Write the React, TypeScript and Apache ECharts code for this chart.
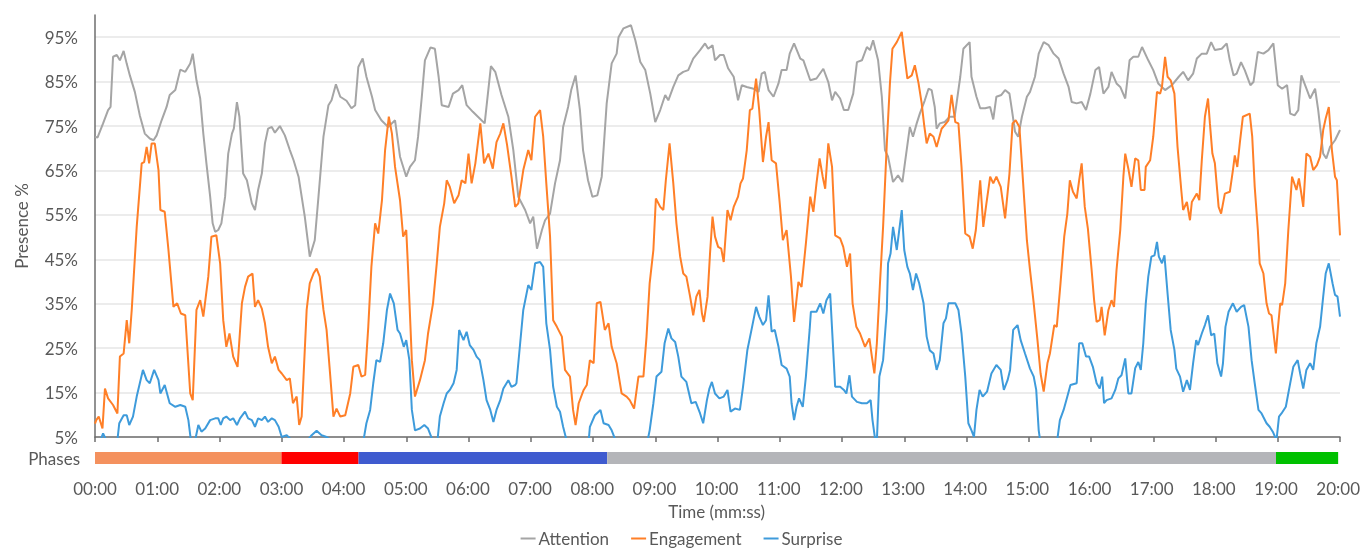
import React, { useEffect, useRef } from 'react';
import * as echarts from 'echarts';

const FONT = 'Lato, "Noto Sans", sans-serif';
const TEXT = '#595959';

const seriesNames = ['Attention', 'Engagement', 'Surprise'];
const seriesColors = ['#A5A5A5', '#FF7F27', '#3E9BDB'];

const phaseBounds = [0, 3, 4.24, 8.24, 19, 20];
const phaseColors = ['#F4915E', '#FF0000', '#3F5BCF', '#B4B5B9', '#00C000'];

const attention: [number, number][] = [
[0,72.6],[0.04,72.4],[0.13,75.6],[0.21,78.6],[0.25,79.3],[0.29,90.6],[0.35,91],[0.40,89.8],[0.46,91.9],[0.51,89],[0.56,86.4],[0.64,82.7],[0.72,77.4],[0.80,73.3],[0.88,72.2],[0.94,71.8],[0.99,72.9],[1.07,76.3],[1.15,79.3],[1.20,82],[1.29,83.1],[1.37,87.7],[1.45,87.2],[1.53,89.1],[1.57,91.3],[1.63,85.3],[1.69,81.2],[1.74,73.3],[1.79,66.6],[1.85,59.1],[1.89,53.1],[1.93,51.2],[1.98,51.6],[2.03,53.1],[2.09,59.1],[2.14,68.8],[2.20,73.3],[2.23,74.4],[2.28,80.4],[2.32,77.1],[2.38,64.3],[2.44,62.8],[2.52,57.6],[2.57,56.1],[2.62,60.6],[2.68,64.3],[2.73,71.1],[2.78,74.4],[2.84,74.8],[2.89,73.5],[2.97,75],[3.05,72.9],[3.13,69.6],[3.19,67.3],[3.27,63.6],[3.37,54.6],[3.45,45.6],[3.53,49.3],[3.59,59.1],[3.67,72.6],[3.75,79.7],[3.80,80.8],[3.87,84.4],[3.94,81.6],[4.04,80.7],[4.12,79],[4.18,79.7],[4.23,88.3],[4.30,90.2],[4.36,86.1],[4.45,81.6],[4.50,78.6],[4.60,76.3],[4.71,74.8],[4.82,76.3],[4.90,68.1],[5.00,63.6],[5.06,65.8],[5.14,67.3],[5.19,72.6],[5.25,81.6],[5.30,89.8],[5.39,92.7],[5.46,92.4],[5.52,86.1],[5.57,79.7],[5.68,79.3],[5.75,82.3],[5.84,83.1],[5.90,84.2],[5.97,79.7],[6.07,78.2],[6.18,76.7],[6.26,75.6],[6.36,88.5],[6.43,87.2],[6.53,82],[6.64,77.1],[6.72,69.6],[6.80,59.1],[6.91,56.1],[6.99,53.1],[7.04,54.6],[7.10,47.4],[7.18,51.6],[7.23,53.8],[7.31,55.3],[7.39,62.1],[7.47,67.3],[7.52,74.8],[7.60,79.3],[7.65,83.1],[7.72,86.4],[7.79,78.6],[7.84,69.6],[7.92,62.8],[7.99,59.1],[8.07,59.4],[8.14,63.6],[8.22,80.1],[8.30,89.1],[8.38,91.3],[8.41,95],[8.49,97],[8.61,97.7],[8.68,94.3],[8.76,89.4],[8.84,87.6],[8.92,82.3],[9.00,75.9],[9.08,78.6],[9.16,82],[9.21,80.8],[9.29,83.8],[9.37,86.4],[9.45,87.2],[9.53,87.6],[9.61,90.2],[9.72,92.1],[9.80,93.6],[9.85,92.4],[9.92,93.2],[9.96,89.8],[10.04,91],[10.10,91],[10.17,88],[10.26,86.1],[10.33,80.8],[10.39,84.2],[10.47,83.8],[10.58,83.4],[10.66,82.7],[10.71,86.8],[10.76,87.2],[10.82,83.1],[10.90,81.6],[10.98,84.6],[11.03,87.6],[11.11,87.6],[11.16,91.3],[11.23,93.6],[11.33,90.2],[11.38,89.8],[11.49,85.3],[11.59,85.7],[11.70,87.9],[11.78,84.9],[11.84,80.8],[11.89,82.7],[11.97,81.2],[12.03,78.6],[12.10,78.6],[12.18,82.3],[12.24,89.4],[12.32,89.8],[12.40,92.8],[12.45,92.1],[12.50,94.3],[12.58,89.8],[12.64,81.6],[12.69,69.6],[12.74,68.1],[12.82,62.4],[12.90,63.9],[12.97,62.4],[13.01,66.6],[13.09,74.8],[13.14,72.6],[13.20,75.6],[13.25,77.8],[13.33,80.8],[13.39,83.4],[13.44,83.1],[13.49,79.3],[13.52,74.4],[13.57,75.6],[13.65,75.9],[13.73,77.1],[13.81,77.1],[13.90,86.1],[13.95,92.4],[14.05,93.9],[14.08,86.1],[14.16,81.6],[14.22,79],[14.30,79],[14.38,79.3],[14.43,76.5],[14.48,81.6],[14.56,82],[14.62,83.1],[14.69,82.3],[14.73,78.6],[14.78,73.7],[14.83,72.6],[14.89,77.1],[14.97,81.6],[15.02,82.7],[15.10,86.1],[15.16,91.3],[15.24,93.9],[15.32,93.2],[15.40,91.3],[15.48,90.2],[15.56,86.8],[15.64,83.8],[15.69,80.4],[15.77,80.1],[15.85,80.4],[15.92,78.6],[15.99,82.3],[16.07,87.6],[16.13,88.3],[16.20,82.3],[16.28,83.8],[16.33,87.2],[16.41,84.6],[16.47,83.8],[16.55,81.2],[16.62,89.8],[16.68,90.6],[16.76,90.6],[16.82,92.8],[16.92,89.8],[17.00,87.6],[17.08,84.6],[17.19,83.1],[17.30,84.2],[17.41,86.1],[17.48,87.2],[17.56,85.3],[17.64,86.8],[17.70,90.2],[17.78,91.3],[17.86,91.3],[17.93,93.9],[17.99,92.1],[18.10,92.4],[18.18,93.6],[18.23,89.8],[18.29,86.4],[18.34,86.8],[18.41,89.4],[18.47,87.6],[18.56,84.2],[18.61,84.9],[18.68,91.7],[18.77,91.3],[18.85,92.1],[18.93,93.6],[19.00,84.2],[19.07,83.4],[19.15,84.2],[19.20,77.8],[19.27,77.4],[19.33,78.6],[19.38,86.4],[19.47,83.1],[19.52,81.2],[19.60,83.4],[19.65,78.6],[19.73,68.8],[19.78,67.7],[19.84,70.3],[19.92,71.8],[20.0,74.1]
];

const engagement: [number, number][] = [
[0,8],[0.02,8.8],[0.06,9.6],[0.12,6.9],[0.16,15.9],[0.21,13.7],[0.29,12.2],[0.36,10.3],[0.40,23.1],[0.46,23.8],[0.51,31.3],[0.55,26.1],[0.59,33.6],[0.67,52.3],[0.75,66.6],[0.79,66.9],[0.83,70.3],[0.87,66.6],[0.91,71.1],[0.96,71.1],[1.02,65.1],[1.05,56.1],[1.12,55.7],[1.18,47.1],[1.26,34.3],[1.32,35.1],[1.38,32.8],[1.45,32.4],[1.53,14.8],[1.57,13.3],[1.63,33.6],[1.69,35.8],[1.74,32.1],[1.82,41.1],[1.87,50.1],[1.95,50.4],[2.01,44.1],[2.06,31.3],[2.11,25.3],[2.16,28.3],[2.22,23.1],[2.29,20.8],[2.36,35.1],[2.41,38.8],[2.46,41.1],[2.53,41.8],[2.57,34.3],[2.62,35.8],[2.68,33.9],[2.73,30.6],[2.78,25.3],[2.84,21.6],[2.89,23.1],[2.95,20.1],[3.00,19.3],[3.08,17.8],[3.13,18.2],[3.18,12.6],[3.24,14.1],[3.28,7.7],[3.32,9.6],[3.35,18.6],[3.40,33.6],[3.45,39.6],[3.51,41.8],[3.56,42.9],[3.61,41.1],[3.67,33.6],[3.72,29.1],[3.78,18.6],[3.83,9.6],[3.88,11.4],[3.94,9.6],[4.02,9.9],[4.10,14.8],[4.15,20.8],[4.23,21.2],[4.28,18.6],[4.34,19],[4.39,29.8],[4.44,43.3],[4.50,53.1],[4.55,50.8],[4.61,58.3],[4.66,69.6],[4.72,77.1],[4.77,73.3],[4.82,65.8],[4.90,58.3],[4.95,50.1],[5.00,51.6],[5.03,42.6],[5.09,22.3],[5.14,14.1],[5.22,17.8],[5.30,22.3],[5.35,28.3],[5.43,35.1],[5.49,44.1],[5.54,52.3],[5.61,57.6],[5.65,62.8],[5.70,61.3],[5.77,57.6],[5.84,59.4],[5.89,62.8],[5.95,62.1],[6.00,68.8],[6.05,62.1],[6.11,66.6],[6.19,75.6],[6.25,66.6],[6.32,68.8],[6.39,65.4],[6.45,71.4],[6.51,73.3],[6.56,75.6],[6.62,70.7],[6.69,63.6],[6.75,56.8],[6.80,57.6],[6.88,65.1],[6.96,69.6],[7.01,67.3],[7.07,77.1],[7.15,78.6],[7.20,72.6],[7.25,62.1],[7.31,50.1],[7.36,31.3],[7.42,29.8],[7.50,27.6],[7.55,20.1],[7.63,18.6],[7.68,11.1],[7.72,7.7],[7.77,12.6],[7.85,15.6],[7.90,16.7],[7.95,22.3],[8.01,21.6],[8.06,35.1],[8.12,35.4],[8.19,29.1],[8.25,30.6],[8.30,25.3],[8.38,21.6],[8.46,14.8],[8.54,14.1],[8.59,13.3],[8.66,11.4],[8.73,18.6],[8.81,18.6],[8.86,27.6],[8.91,39.6],[8.97,47.1],[9.01,58.7],[9.08,56.8],[9.13,56.1],[9.17,62.8],[9.23,71.1],[9.29,62.1],[9.34,53.1],[9.40,45.6],[9.45,41.8],[9.50,41.1],[9.56,36.6],[9.61,32.4],[9.66,36.6],[9.71,38.1],[9.75,32.8],[9.78,30.9],[9.84,36.6],[9.88,46.3],[9.92,54.6],[9.96,50.1],[10.01,47.8],[10.06,47.4],[10.10,44.4],[10.16,56.1],[10.21,53.8],[10.26,56.8],[10.33,59.1],[10.37,62.1],[10.41,63.2],[10.47,69.6],[10.52,78.6],[10.56,78.9],[10.62,85.7],[10.67,78.6],[10.73,66.9],[10.78,72.6],[10.82,75.9],[10.87,67.3],[10.94,66.6],[11.00,57.6],[11.05,49.3],[11.11,51.6],[11.18,41.1],[11.23,30.9],[11.30,39.9],[11.35,38.8],[11.42,48.6],[11.49,59.1],[11.54,55.7],[11.59,62.1],[11.64,67.7],[11.69,63.6],[11.73,60.9],[11.78,71.1],[11.84,65.8],[11.89,50.4],[11.97,49.7],[12.02,47.8],[12.08,43.3],[12.13,46.3],[12.17,35.1],[12.23,29.8],[12.29,28.3],[12.37,25.3],[12.44,27.2],[12.48,23.1],[12.52,19.3],[12.56,26.1],[12.61,39.6],[12.66,52.3],[12.72,71.1],[12.77,84.6],[12.81,92.4],[12.88,93.9],[12.96,96.2],[13.00,91.3],[13.05,85.7],[13.12,86.4],[13.17,88.7],[13.23,84.6],[13.28,80.1],[13.32,75.2],[13.36,71.1],[13.41,73.3],[13.47,72.6],[13.52,70.3],[13.60,74.4],[13.65,75.2],[13.71,76.3],[13.76,82],[13.82,75.9],[13.87,75.6],[13.92,65.8],[13.98,50.8],[14.05,50.1],[14.10,47.4],[14.15,51.6],[14.22,62.8],[14.27,52.3],[14.32,57.6],[14.38,63.6],[14.43,62.1],[14.48,63.6],[14.55,61.3],[14.62,54.2],[14.69,64.3],[14.74,75.6],[14.79,76.3],[14.85,74.8],[14.91,62.1],[14.97,49.3],[15.02,42.6],[15.08,35.1],[15.14,26.8],[15.19,19.3],[15.24,15.2],[15.30,21.6],[15.34,23.8],[15.41,30.2],[15.45,29.8],[15.51,39.6],[15.57,50.1],[15.62,55.3],[15.66,62.8],[15.71,60.2],[15.77,58.7],[15.81,62.8],[15.85,66.6],[15.90,56.8],[15.95,51.9],[16.01,42.6],[16.05,35.8],[16.09,30.9],[16.14,31.3],[16.17,34.3],[16.22,27.9],[16.28,33.6],[16.33,35.8],[16.37,34.3],[16.41,42.6],[16.47,51.6],[16.52,63.6],[16.55,68.8],[16.60,65.4],[16.65,61.3],[16.71,67.7],[16.76,67.3],[16.80,60.6],[16.86,60.6],[16.88,65.8],[16.95,67.3],[17.00,72.6],[17.06,82.7],[17.11,82.3],[17.14,83.8],[17.19,90.6],[17.23,86.1],[17.28,85.3],[17.34,82.3],[17.39,70.3],[17.45,60.6],[17.48,56.1],[17.54,57.9],[17.59,53.8],[17.62,57.9],[17.70,59.8],[17.74,58.3],[17.78,67.3],[17.83,77.1],[17.88,81.2],[17.91,75.6],[17.95,68.8],[17.99,66.6],[18.05,56.8],[18.09,55.3],[18.15,59.8],[18.23,60.2],[18.28,65.1],[18.31,68.4],[18.35,65.8],[18.39,71.1],[18.44,77.1],[18.55,77.8],[18.59,72.6],[18.63,61.3],[18.68,51.6],[18.71,44.1],[18.77,41.8],[18.82,35.1],[18.86,32.8],[18.90,32.4],[18.97,23.8],[19.00,29.1],[19.04,35.1],[19.07,34.7],[19.12,39.6],[19.17,51.6],[19.23,63.6],[19.30,60.6],[19.34,63.2],[19.37,60.6],[19.41,56.8],[19.46,68.8],[19.52,68.1],[19.57,65.1],[19.63,66.2],[19.68,68.1],[19.73,74.1],[19.77,76.7],[19.82,79.3],[19.87,69.6],[19.92,63.6],[19.95,62.8],[20.0,50.4]
];

const surprise: [number, number][] = [
[0,4.3],[0.08,4],[0.13,5.8],[0.19,4],[0.35,3],[0.39,8.1],[0.46,9.9],[0.51,9.9],[0.55,7.7],[0.61,9.6],[0.67,14.1],[0.72,17.1],[0.77,20.1],[0.83,17.8],[0.88,17.1],[0.95,20.1],[1.02,17.8],[1.05,14.8],[1.12,16.7],[1.20,12.6],[1.29,11.8],[1.37,12.2],[1.45,11.8],[1.50,8.8],[1.54,4.3],[1.58,3],[1.62,5],[1.66,7.7],[1.71,6.2],[1.77,6.9],[1.85,8.8],[1.93,9.2],[1.98,9.2],[2.02,7.7],[2.06,9.2],[2.11,9.6],[2.17,8.8],[2.22,9.2],[2.28,7.7],[2.33,9.2],[2.41,10.7],[2.46,9.2],[2.52,8.8],[2.57,7.3],[2.62,9.2],[2.68,8.8],[2.73,9.6],[2.78,8.4],[2.84,9.2],[2.89,8.8],[2.95,7.3],[3.00,5],[3.08,5.4],[3.13,4.7],[3.24,3.5],[3.40,4],[3.48,5.4],[3.56,6.4],[3.64,5.4],[3.72,5],[3.83,4],[4.31,4],[4.36,8.1],[4.42,11.1],[4.47,17.1],[4.52,22.3],[4.58,21.9],[4.63,26.1],[4.69,33.6],[4.74,37.3],[4.80,35.1],[4.86,29.1],[4.90,28.3],[4.96,25.3],[5.00,26.8],[5.05,22.3],[5.09,11.1],[5.14,6.5],[5.22,6.9],[5.29,7.7],[5.35,6.9],[5.43,4],[5.50,4],[5.54,9.6],[5.60,12.6],[5.65,14.8],[5.70,15.6],[5.76,17.1],[5.81,20.1],[5.85,29.1],[5.92,26.8],[5.97,28.7],[6.02,25.7],[6.08,24.6],[6.13,23.1],[6.18,22.3],[6.24,17.8],[6.29,13.3],[6.35,11.1],[6.40,8.4],[6.45,11.1],[6.51,13.3],[6.56,15.9],[6.64,17.8],[6.69,16.3],[6.75,16.7],[6.77,17.1],[6.83,26.1],[6.88,33.6],[6.96,39.2],[7.01,38.1],[7.07,44.1],[7.15,44.4],[7.20,43.3],[7.25,30.6],[7.31,24.6],[7.36,16.3],[7.42,11.8],[7.47,10.7],[7.52,7.3],[7.58,4],[7.93,4],[7.95,7.3],[8.03,9.9],[8.12,11.1],[8.17,8.1],[8.25,7.7],[8.30,6.5],[8.35,4.7],[8.38,3],[8.86,3],[8.91,6.5],[8.97,12.6],[9.02,18.6],[9.10,19.7],[9.15,26.1],[9.21,29.4],[9.26,27.2],[9.32,26.4],[9.37,23.1],[9.42,18.6],[9.50,17.4],[9.58,12.6],[9.65,12.9],[9.72,10.3],[9.77,8.1],[9.83,13.3],[9.87,15.9],[9.91,17.4],[9.96,14.8],[10.03,13.7],[10.10,14.1],[10.16,15.6],[10.21,10.7],[10.28,11.4],[10.36,11.1],[10.41,16.3],[10.48,24.6],[10.55,29.4],[10.62,34.3],[10.67,32.1],[10.73,30.2],[10.78,31.3],[10.82,36.9],[10.87,28.7],[10.92,29.1],[10.98,25.3],[11.03,21.2],[11.11,20.4],[11.16,18.6],[11.19,12.6],[11.23,8.8],[11.27,11.8],[11.31,13.7],[11.37,11.8],[11.42,18.6],[11.48,29.1],[11.50,33.2],[11.59,33.2],[11.65,35.1],[11.70,32.8],[11.75,35.8],[11.81,37.3],[11.85,26.8],[11.89,16.3],[11.97,16.3],[12.03,15.6],[12.07,14.8],[12.12,18.9],[12.16,14.1],[12.24,12.9],[12.32,12.6],[12.40,12.6],[12.46,13.3],[12.49,8.8],[12.53,4.7],[12.56,4],[12.60,18.6],[12.66,22.3],[12.72,33.6],[12.74,44.1],[12.78,46.3],[12.82,52.3],[12.88,47.1],[12.92,51.6],[12.96,56.1],[13.00,47.1],[13.05,43.3],[13.09,41.8],[13.14,38.1],[13.19,41.8],[13.24,39.6],[13.31,35.1],[13.36,27.6],[13.41,24.5],[13.47,23.8],[13.52,20.1],[13.57,22.3],[13.63,30.6],[13.67,31.7],[13.71,35.1],[13.82,35.1],[13.87,33.6],[13.92,28.3],[13.98,18.6],[14.03,8.1],[14.08,6.5],[14.12,5],[14.16,11.1],[14.21,15.6],[14.26,14.1],[14.33,15.2],[14.40,19.3],[14.48,21.2],[14.55,20.1],[14.60,15.6],[14.66,17.8],[14.70,20.1],[14.75,29.1],[14.82,30.2],[14.87,26.8],[14.94,23.8],[15.02,20.4],[15.08,18.6],[15.12,15.6],[15.16,6.5],[15.19,3.5],[15.45,3.5],[15.50,8.8],[15.56,11.1],[15.62,14.1],[15.67,16.7],[15.77,17.1],[15.81,26.1],[15.86,26.1],[15.92,23.1],[15.97,23.1],[16.03,20.8],[16.09,17.1],[16.14,15.9],[16.18,18.6],[16.21,12.6],[16.25,13.3],[16.33,13.7],[16.39,15.6],[16.44,18.2],[16.49,18.9],[16.55,22.7],[16.60,14.8],[16.65,14.8],[16.71,20.5],[16.76,21.9],[16.80,20.1],[16.84,26.1],[16.88,35.1],[16.92,41.1],[16.97,45.6],[17.02,45.9],[17.06,48.9],[17.09,45.6],[17.14,44.1],[17.18,45.9],[17.23,37.3],[17.28,29.1],[17.34,24.6],[17.37,20.4],[17.43,18.6],[17.48,15.2],[17.54,17.8],[17.59,15.6],[17.64,21.6],[17.69,26.8],[17.72,25.7],[17.78,28.3],[17.83,30.2],[17.88,32.4],[17.93,27.9],[17.98,28.3],[18.03,21.6],[18.09,18.6],[18.12,21.6],[18.16,29.8],[18.21,33.2],[18.28,35.1],[18.34,33.2],[18.41,34.3],[18.46,34.7],[18.53,29.8],[18.58,22.3],[18.63,17.1],[18.69,11.1],[18.74,10.3],[18.82,8.1],[18.87,7.3],[18.92,6.2],[18.98,4.3],[19.02,9.6],[19.06,10.3],[19.13,11.8],[19.18,15.6],[19.25,20.8],[19.32,22.3],[19.36,19.3],[19.41,15.9],[19.46,20.1],[19.52,21.6],[19.57,20.1],[19.62,26.1],[19.68,29.8],[19.73,36.6],[19.77,41.8],[19.82,44.1],[19.88,39.6],[19.92,37.0],[19.96,36.6],[20.0,32.1]
];

const lineData = [attention, engagement, surprise];

function fmtTime(v: number) {
  const m = Math.round(v);
  return (m < 10 ? '0' + m : String(m)) + ':00';
}

export default function App() {
  const ref = useRef<HTMLDivElement>(null);
  useEffect(() => {
    const chart = echarts.init(ref.current!, null, { renderer: 'svg' });
    const textStyle = { color: TEXT, fontFamily: FONT, fontSize: 17 };
    const phaseSeries = phaseColors.map((c, i) => ({
      type: 'bar',
      name: 'phase' + i,
      xAxisIndex: 1,
      yAxisIndex: 1,
      stack: 'phases',
      barWidth: 12,
      silent: true,
      itemStyle: { color: c },
      data: [+(phaseBounds[i + 1] - phaseBounds[i]).toFixed(3)],
    }));
    const lines = seriesNames.map((n, i) => ({
      type: 'line',
      name: n,
      xAxisIndex: 0,
      yAxisIndex: 0,
      symbol: 'none',
      showSymbol: false,
      clip: true,
      color: seriesColors[i],
      lineStyle: { width: 2, color: seriesColors[i] },
      data: lineData[i],
      z: 3 + i,
    }));
    chart.setOption({
      animation: false,
      textStyle: { fontFamily: FONT },
      grid: [
        { left: 95, top: 15, width: 1245, height: 422 },
        { left: 95, top: 452, width: 1245, height: 12 },
      ],
      xAxis: [
        {
          gridIndex: 0, type: 'value', min: 0, max: 20, interval: 1,
          axisLine: { show: true, lineStyle: { color: '#6E6E6E', width: 1.5 } },
          axisTick: { show: true, length: 5, lineStyle: { color: '#6E6E6E', width: 1.5 } },
          axisLabel: { show: false },
          splitLine: { show: false },
        },
        {
          gridIndex: 1, type: 'value', min: 0, max: 20, interval: 1,
          axisLine: { show: false }, axisTick: { show: false }, splitLine: { show: false },
          axisLabel: { ...textStyle, margin: 16, formatter: (v: number) => fmtTime(v) },
          name: 'Time (mm:ss)', nameLocation: 'middle', nameGap: 39,
          nameTextStyle: { ...textStyle },
        },
      ],
      yAxis: [
        {
          gridIndex: 0, type: 'value', min: 5, max: 100, interval: 10,
          axisLine: { show: true, lineStyle: { color: '#6E6E6E', width: 1.5 } },
          axisTick: { show: false },
          axisLabel: { ...textStyle, margin: 17, showMaxLabel: false, formatter: (v: number) => (v >= 100 ? '' : v + '%') },
          splitLine: { show: true, showMaxLine: false, lineStyle: { color: '#E6E6E6', width: 1.5 } },
          name: 'Presence %', nameLocation: 'middle', nameGap: 65, nameRotate: 90,
          nameTextStyle: { ...textStyle },
        },
        {
          gridIndex: 1, type: 'category', data: ['Phases'],
          axisLine: { show: false }, axisTick: { show: false }, splitLine: { show: false },
          axisLabel: { ...textStyle, margin: 15 },
        },
      ],
      legend: {
        data: seriesNames,
        top: 528,
        left: 'center',
        icon: 'rect',
        itemWidth: 15,
        itemHeight: 2,
        itemGap: 22,
        padding: [2, 5, 2, 5],
        textStyle: { ...textStyle, padding: [0, 0, 0, -2] },
      },
      series: [...phaseSeries, ...lines],
    });
    return () => chart.dispose();
  }, []);
  return <div ref={ref} style={{ position: 'fixed', left: 0, top: 0, width: 1363, height: 555 }} />;
}
